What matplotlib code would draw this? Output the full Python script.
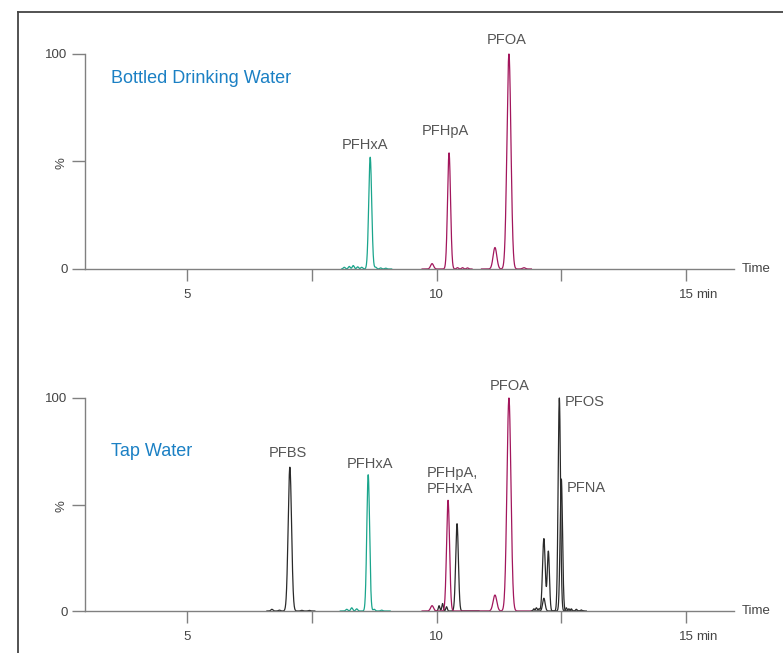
import numpy as np
import matplotlib as mpl
import matplotlib.pyplot as plt
from matplotlib.lines import Line2D

mpl.rcParams['font.family'] = ['Liberation Sans', 'DejaVu Sans']

# colours of the channels
TEAL = '#1aa58c'
MAGENTA = '#a2165c'
BLACK = '#2a2a2a'
BLUE = '#1b80c4'
GREY = '#555555'

# peak tables per trace: retention time (min), relative height (%), sigma (min)
# window = (start, end) of the acquisition segment

# --- Bottled drinking water ---
bot_pfhxa_win = (8.10, 9.10)
bot_pfhxa_rt = [8.15, 8.25, 8.33, 8.42, 8.50, 8.67, 8.78, 8.88, 8.98]
bot_pfhxa_h = [0.8, 1.2, 1.6, 1.0, 0.8, 52.0, 0.8, 0.5, 0.4]
bot_pfhxa_s = [0.02, 0.02, 0.02, 0.02, 0.02, 0.03, 0.02, 0.02, 0.02]

bot_pfhpa_win = (9.71, 10.71)
bot_pfhpa_rt = [9.91, 10.25, 10.42, 10.52, 10.62]
bot_pfhpa_h = [2.5, 54.0, 0.6, 0.6, 0.5]
bot_pfhpa_s = [0.03, 0.03, 0.02, 0.02, 0.02]

bot_pfoa_win = (10.90, 11.90)
bot_pfoa_rt = [11.17, 11.45, 11.75]
bot_pfoa_h = [10.0, 100.0, 0.6]
bot_pfoa_s = [0.037, 0.04, 0.03]

# --- Tap water ---
tap_pfbs_win = (6.60, 7.56)
tap_pfbs_rt = [6.70, 6.85, 7.06, 7.30, 7.45]
tap_pfbs_h = [0.8, 0.4, 67.5, 0.3, 0.3]
tap_pfbs_s = [0.02, 0.02, 0.034, 0.02, 0.02]

tap_pfhxa_win = (8.07, 9.07)
tap_pfhxa_rt = [8.20, 8.30, 8.40, 8.63, 8.75, 8.90]
tap_pfhxa_h = [0.8, 1.5, 1.0, 64.0, 0.8, 0.4]
tap_pfhxa_s = [0.02, 0.02, 0.02, 0.028, 0.02, 0.02]

tap_pfhpa_win = (9.71, 11.90)
tap_pfhpa_rt = [9.91, 10.23, 11.17, 11.45]
tap_pfhpa_h = [2.5, 52.0, 7.5, 100.0]
tap_pfhpa_s = [0.03, 0.03, 0.037, 0.04]

tap_c6_win = (9.97, 10.85)
tap_c6_rt = [10.05, 10.12, 10.20, 10.41]
tap_c6_h = [2.5, 3.5, 2.0, 41.0]
tap_c6_s = [0.015, 0.015, 0.015, 0.027]

tap_pfos_win = (11.90, 13.00)
tap_pfos_rt = [11.95, 12.00, 12.05, 12.15, 12.24, 12.46, 12.60, 12.70, 12.80, 12.90]
tap_pfos_h = [1.0, 1.5, 1.0, 34.0, 28.0, 100.0, 1.5, 1.0, 0.8, 0.5]
tap_pfos_s = [0.015, 0.015, 0.015, 0.027, 0.022, 0.024, 0.015, 0.015, 0.015, 0.015]

tap_pfna_win = (11.95, 12.95)
tap_pfna_rt = [12.15, 12.50, 12.65]
tap_pfna_h = [6.0, 62.0, 1.0]
tap_pfna_s = [0.025, 0.024, 0.02]

# peak labels: text, time, level, alignment
bot_labels = [('PFHxA', 8.57, 57.5, 'center'),
              ('PFHpA', 10.17, 64.0, 'center'),
              ('PFOA', 11.41, 106.5, 'center')]
tap_labels = [('PFBS', 7.02, 74.0, 'center'),
              ('PFHxA', 8.66, 69.0, 'center'),
              ('PFHpA,\nPFHxA', 9.81, 61.0, 'left'),
              ('PFOA', 11.46, 105.6, 'center'),
              ('PFOS', 12.57, 98.0, 'left'),
              ('PFNA', 12.61, 57.7, 'left')]


def trace(win, rt, h, s):
    ''' Sum of gaussian peaks over the acquisition window. '''
    t = np.linspace(win[0], win[1], 600)
    y = np.zeros_like(t)
    for r, a, w in zip(rt, h, s):
        y += a * np.exp(-0.5 * ((t - r) / w) ** 2)
    return t, y


def style_axes(ax):
    ax.set_xlim(2.955, 15.96)
    ax.set_ylim(0, 100)
    for side in ['top', 'right']:
        ax.spines[side].set_visible(False)
    for side in ['left', 'bottom']:
        ax.spines[side].set_color('#808080')
        ax.spines[side].set_linewidth(1.0)
    ax.set_yticks([0, 50, 100])
    ax.set_yticklabels(['0', '%', '100'])
    ax.get_yticklabels()[1].set_rotation(90)
    ax.set_xticks([5, 7.5, 10, 12.5, 15])
    ax.set_xticklabels(['5', '', '10', '', '15'])
    ax.tick_params(axis='y', length=9.5, width=1.0, color='#808080',
                   labelsize=9.5, labelcolor='#444444', pad=3)
    ax.tick_params(axis='x', length=8.5, width=1.0, color='#808080',
                   labelsize=9.5, labelcolor='#444444', pad=6)
    ax.text(15.2, -12.2, 'min', fontsize=9.5, color='#444444',
            ha='left', va='center', clip_on=False)
    ax.text(1.012, 0.0, 'Time', transform=ax.transAxes, fontsize=9.5,
            color='#444444', ha='left', va='center')


def draw(ax, win, rt, h, s, color):
    t, y = trace(win, rt, h, s)
    ax.plot(t, y, color=color, lw=0.9, clip_on=False)


fig = plt.figure(figsize=(7.83, 6.53), dpi=100)

# frame around the figure (top and left edges)
fig.add_artist(Line2D([18 / 783, 18 / 783], [0, 1 - 12 / 653],
                      color='#444444', lw=1.3))
fig.add_artist(Line2D([18 / 783, 1], [1 - 12 / 653, 1 - 12 / 653],
                      color='#444444', lw=1.3))

ax1 = fig.add_axes([85 / 783, 1 - 269 / 653, 649 / 783, 215 / 653])
ax2 = fig.add_axes([85 / 783, 1 - 611 / 653, 649 / 783, 213 / 653])

# bottled drinking water
style_axes(ax1)
draw(ax1, bot_pfhxa_win, bot_pfhxa_rt, bot_pfhxa_h, bot_pfhxa_s, TEAL)
draw(ax1, bot_pfhpa_win, bot_pfhpa_rt, bot_pfhpa_h, bot_pfhpa_s, MAGENTA)
draw(ax1, bot_pfoa_win, bot_pfoa_rt, bot_pfoa_h, bot_pfoa_s, MAGENTA)
ax1.text(3.48, 88.8, 'Bottled Drinking Water', color=BLUE, fontsize=13,
         ha='left', va='center')
for txt, x, y, ha in bot_labels:
    ax1.text(x, y, txt, color=GREY, fontsize=10.5, ha=ha, va='center',
             clip_on=False)

# tap water
style_axes(ax2)
draw(ax2, tap_pfbs_win, tap_pfbs_rt, tap_pfbs_h, tap_pfbs_s, BLACK)
draw(ax2, tap_pfhxa_win, tap_pfhxa_rt, tap_pfhxa_h, tap_pfhxa_s, TEAL)
draw(ax2, tap_c6_win, tap_c6_rt, tap_c6_h, tap_c6_s, BLACK)
draw(ax2, tap_pfhpa_win, tap_pfhpa_rt, tap_pfhpa_h, tap_pfhpa_s, MAGENTA)
draw(ax2, tap_pfna_win, tap_pfna_rt, tap_pfna_h, tap_pfna_s, BLACK)
draw(ax2, tap_pfos_win, tap_pfos_rt, tap_pfos_h, tap_pfos_s, BLACK)
ax2.text(3.48, 75.0, 'Tap Water', color=BLUE, fontsize=13,
         ha='left', va='center')
for txt, x, y, ha in tap_labels:
    ax2.text(x, y, txt, color=GREY, fontsize=10.5, ha=ha, va='center',
             linespacing=1.25, clip_on=False)

fig.savefig('out.png', dpi=100)
